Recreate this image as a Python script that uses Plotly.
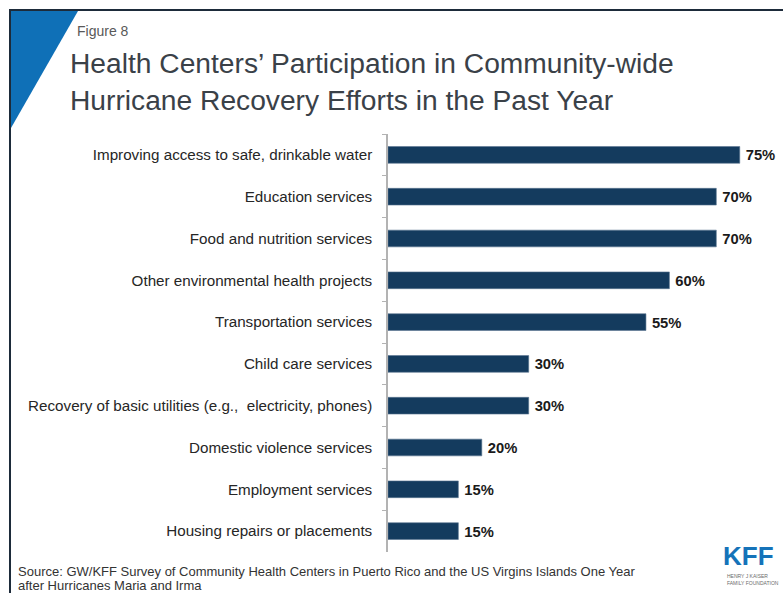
import plotly.graph_objects as go

# Survey results: share of health centers participating in each recovery effort
categories = [
    "Improving access to safe, drinkable water",
    "Education services",
    "Food and nutrition services",
    "Other environmental health projects",
    "Transportation services",
    "Child care services",
    "Recovery of basic utilities (e.g.,  electricity, phones)",
    "Domestic violence services",
    "Employment services",
    "Housing repairs or placements",
]
values = [75, 70, 70, 60, 55, 30, 30, 20, 15, 15]
value_labels = [f"\u2009{v}%" for v in values]

W, H = 783, 593
FONT = "Liberation Sans, Arial, sans-serif"


def px(x):
    return x / W


def py(y):
    return 1 - y / H


fig = go.Figure(
    go.Bar(
        y=categories,
        x=values,
        orientation="h",
        width=0.4,
        marker=dict(color="#143b5e", line=dict(color="#5b7590", width=0.6)),
        text=value_labels,
        textposition="outside",
        textfont=dict(family=FONT, size=15, color="#1a1a1a", weight="bold"),
        cliponaxis=False,
        hoverinfo="skip",
    )
)

fig.update_layout(
    width=W,
    height=H,
    margin=dict(l=0, r=0, t=0, b=0),
    paper_bgcolor="white",
    plot_bgcolor="white",
    showlegend=False,
    font=dict(family=FONT, color="#262626"),
    xaxis=dict(
        domain=[px(388), 1],
        range=[0, (W - 388) / 4.69],
        visible=False,
        fixedrange=True,
    ),
    yaxis=dict(
        domain=[py(552), py(134)],
        autorange="reversed",
        type="category",
        showline=True,
        linecolor="#b3b3b3",
        linewidth=1.5,
        ticks="outside",
        tickson="boundaries",
        ticklen=4,
        tickcolor="#b3b3b3",
        tickwidth=1,
        showgrid=False,
        tickfont=dict(family=FONT, size=15.2, color="#262626"),
        ticklabelstandoff=11,
        automargin=False,
        fixedrange=True,
    ),
)

# Slide frame and blue corner triangle
fig.add_shape(type="line", xref="paper", yref="paper",
              x0=px(9), y0=py(10), x1=1.0, y1=py(10),
              line=dict(color="#1d2b3a", width=2))
fig.add_shape(type="line", xref="paper", yref="paper",
              x0=px(10), y0=py(9), x1=px(10), y1=0,
              line=dict(color="#1d2b3a", width=2))
fig.add_shape(type="path", xref="paper", yref="paper",
              path=f"M {px(11)},{py(11)} L {px(78)},{py(11)} L {px(11)},{py(128)} Z",
              fillcolor="#0f70b7", line=dict(width=0))

# Header text
fig.add_annotation(text="Figure 8", xref="paper", yref="paper",
                   x=px(75), y=py(31), xanchor="left", yanchor="middle",
                   showarrow=False, font=dict(family=FONT, size=14, color="#595959"))
fig.add_annotation(
    text="Health Centers’ Participation in Community-wide<br>Hurricane Recovery Efforts in the Past Year",
    xref="paper", yref="paper", x=px(68), y=py(45), xanchor="left", yanchor="top",
    align="left", showarrow=False,
    font=dict(family=FONT, size=28.2, color="#3a4148"),
)

# Source note (two lines, set tightly)
source_lines = [
    "Source: GW/KFF Survey of Community Health Centers in Puerto Rico and the US Virgins Islands One Year",
    "after Hurricanes Maria and Irma",
]
for line, yc in zip(source_lines, [571, 585]):
    fig.add_annotation(
        text=line, xref="paper", yref="paper", x=px(16), y=py(yc),
        xanchor="left", yanchor="middle", align="left", showarrow=False,
        font=dict(family=FONT, size=13, color="#333333"),
    )

# KFF wordmark
fig.add_annotation(text="<b>KFF</b>", xref="paper", yref="paper",
                   x=px(748), y=py(556), xanchor="center", yanchor="middle",
                   showarrow=False, font=dict(family=FONT, size=26, color="#1573b9"))
fig.add_annotation(text="HENRY J KAISER<br>FAMILY FOUNDATION", xref="paper", yref="paper",
                   x=px(725), y=py(571), xanchor="left", yanchor="top", align="left",
                   showarrow=False, font=dict(family=FONT, size=5, color="#6b6b6b"))

fig.write_html("out.html")
